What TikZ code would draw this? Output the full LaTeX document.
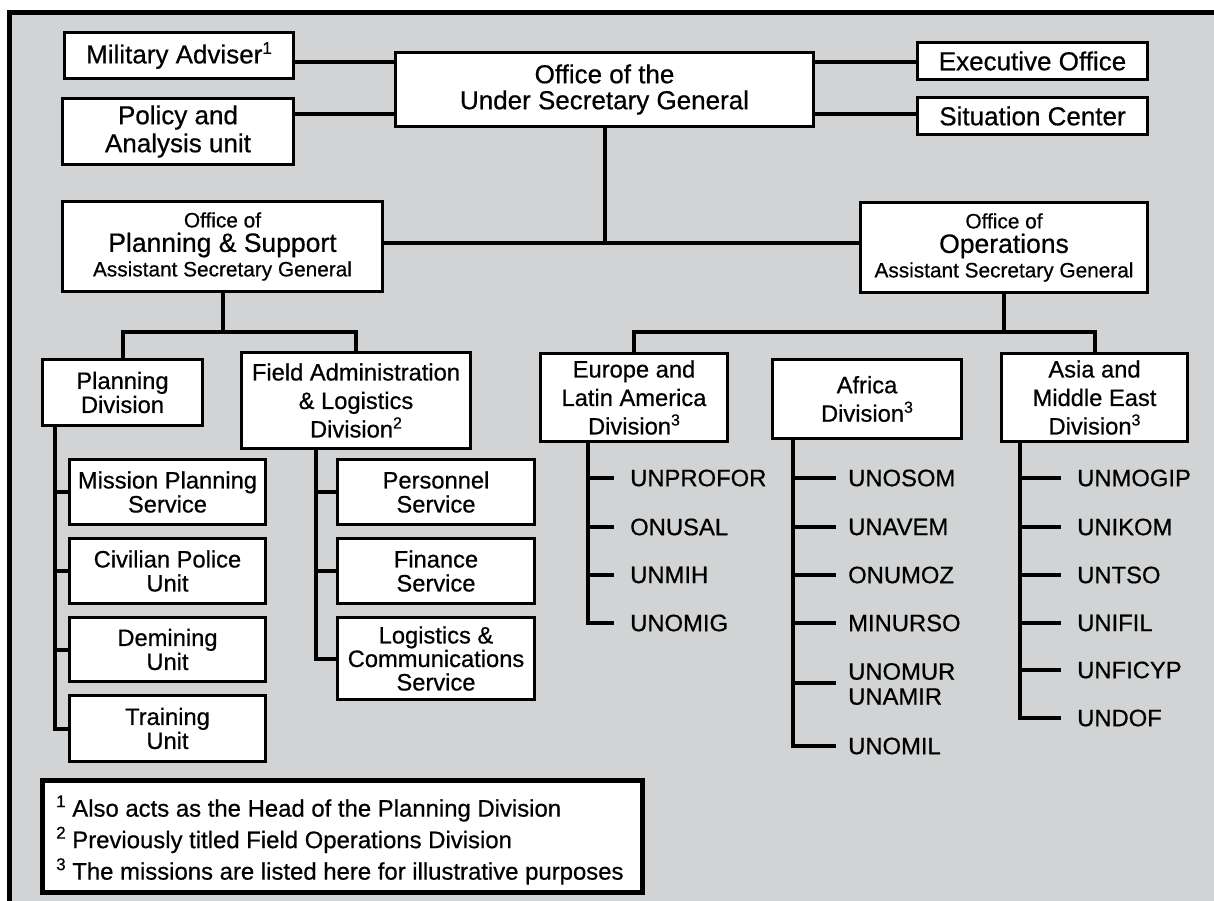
\documentclass[tikz,border=0pt]{standalone}
\usepackage{fontspec}
\setmainfont{Liberation Sans}[FakeBold=0.6]
\definecolor{bggray}{RGB}{209,211,212}
\newcommand\ftop{\fontsize{26}{26}\selectfont}
\newcommand\ftopb{\fontsize{26}{28}\selectfont}
\newcommand\fbig{\fontsize{26.5}{24.5}\selectfont}
\newcommand\fsmall{\fontsize{20.8}{24.5}\selectfont}
\newcommand\flow{\fontsize{23.7}{24}\selectfont}
\newcommand\flowb{\fontsize{23.7}{28.5}\selectfont}
\newcommand\fmis{\fontsize{23.8}{25}\selectfont}
\newcommand\fnote{\fontsize{23.9}{31.5}\selectfont}
\newcommand\supn[1]{\raisebox{9.5pt}{\fontsize{17}{17}\selectfont #1}}
\newcommand\supl[1]{\raisebox{9pt}{\fontsize{16}{16}\selectfont #1}}
\begin{document}
\begin{tikzpicture}[x=1pt,y=-1pt,
  ubox/.style={draw, fill=white, line width=3pt, inner sep=0pt, align=center, text=black},
  conn/.style={line width=4pt},
  mission/.style={font=\fmis, inner sep=0pt, anchor=west, align=left}]
\useasboundingbox (0,0) rectangle (1214,900);
\clip (0,0) rectangle (1214,900);
% frame
\fill[white] (0,0) rectangle (1214,900);
\draw[line width=5pt, fill=bggray] (9,12.5) rectangle (1240,930);

% top level
\node[ubox, minimum width=229pt, minimum height=46pt, font=\ftop] (ma) at (179,55.5) {Military Adviser\supn{1}};
\node[ubox, minimum width=231pt, minimum height=66pt, font=\ftopb] (pol) at (178,131.5) {Policy and\\Analysis unit};
\node[ubox, minimum width=418pt, minimum height=74pt, font=\ftop] (usg) at (604.5,89.5) {Office of the\\Under Secretary General};
\node[ubox, minimum width=230pt, minimum height=37pt, font=\ftop] (exe) at (1032.5,61) {Executive Office};
\node[ubox, minimum width=230pt, minimum height=37pt, font=\ftop] (sit) at (1032.5,116) {Situation Center};

\coordinate (l1) at (0,62);
\coordinate (l2) at (0,113.5);
\draw[conn] (ma.east |- l1) -- (usg.west |- l1);
\draw[conn] (pol.east |- l2) -- (usg.west |- l2);
\draw[conn] (usg.east |- l1) -- (exe.west |- l1);
\draw[conn] (usg.east |- l2) -- (sit.west |- l2);

% ASG offices
\node[ubox, minimum width=320pt, minimum height=90pt, font=\fsmall] (ps) at (222.5,246.5)
  {Office of\\{\fbig Planning \& Support}\\Assistant Secretary General};
\node[ubox, minimum width=287pt, minimum height=90pt, font=\fsmall] (ops) at (1004,247.5)
  {Office of\\{\fbig Operations}\\Assistant Secretary General};
\coordinate (mid) at (605,243);
\draw[conn] (usg.south -| mid) -- (mid);
\draw[conn] (ps.east |- mid) -- (ops.west |- mid);

% divisions
\node[ubox, minimum width=160pt, minimum height=66pt, font=\flow] (pd) at (122.5,392.5) {Planning\\Division};
\node[ubox, minimum width=229pt, minimum height=96pt, font=\flowb] (fa) at (356,400.5) {Field Administration\\\& Logistics\\Division\supl{2}};
\node[ubox, minimum width=187pt, minimum height=88pt, font=\flowb] (eu) at (634,397.5) {Europe and\\Latin America\\Division\supl{3}};
\node[ubox, minimum width=189pt, minimum height=79pt, font=\flowb] (af) at (867,399) {Africa\\Division\supl{3}};
\node[ubox, minimum width=186pt, minimum height=88pt, font=\flowb] (as) at (1094.5,397.5) {Asia and\\Middle East\\Division\supl{3}};

\path (ps.south) ++(0,39) coordinate (psJ);
\draw[conn] (ps.south) -- (psJ);
\draw[conn] (pd.north) |- (psJ) -| (fa.north);
\path (ops.south) ++(0,38) coordinate (opsJ);
\draw[conn] (ops.south) -- (opsJ);
\draw[conn] (eu.north) |- (opsJ) -| (as.north);

% planning division units
\node[ubox, minimum width=196pt, minimum height=65pt, font=\flow] (mps) at (167.5,492) {Mission Planning\\Service};
\node[ubox, minimum width=196pt, minimum height=65pt, font=\flow] (civ) at (167.5,571) {Civilian Police\\Unit};
\node[ubox, minimum width=196pt, minimum height=64pt, font=\flow] (dem) at (167.5,649.5) {Demining\\Unit};
\node[ubox, minimum width=196pt, minimum height=66pt, font=\flow] (trn) at (167.5,728.5) {Training\\Unit};
\coordinate (pdT) at (55,425.5);
\draw[conn] (pdT) |- (mps.west);
\draw[conn] (pdT) |- (civ.west);
\draw[conn] (pdT) |- (dem.west);
\draw[conn] (pdT) |- (trn.west);

% field admin services
\node[ubox, minimum width=197pt, minimum height=65pt, font=\flow] (per) at (436,492) {Personnel\\Service};
\node[ubox, minimum width=197pt, minimum height=65pt, font=\flow] (fin) at (436,571) {Finance\\Service};
\node[ubox, minimum width=197pt, minimum height=82pt, font=\fontsize{23.7}{23.5}\selectfont] (lgc) at (436,658.5) {Logistics \&\\Communications\\Service};
\coordinate (faT) at (316,448.5);
\draw[conn] (faT) |- (per.west);
\draw[conn] (faT) |- (fin.west);
\draw[conn] (faT) |- (lgc.west);

% Europe missions
\node[mission] (e1) at (630,478) {UNPROFOR};
\node[mission] (e2) at (630,527) {ONUSAL};
\node[mission] (e3) at (630,575) {UNMIH};
\node[mission] (e4) at (630,623) {UNOMIG};
\coordinate (euT) at (588,441.5);
\foreach \m in {e1,e2,e3,e4} \draw[conn] (euT) |- ([xshift=-16pt]\m.west);

% Africa missions
\node[mission] (a1) at (848,478) {UNOSOM};
\node[mission] (a2) at (848,527) {UNAVEM};
\node[mission] (a3) at (848,575) {ONUMOZ};
\node[mission] (a4) at (848,623) {MINURSO};
\node[mission] (a5) at (848,684) {UNOMUR\\UNAMIR};
\node[mission] (a6) at (848,746) {UNOMIL};
\coordinate (afT) at (793,438.5);
\draw[conn] (afT) |- ([xshift=-12.5pt]a1.west);
\draw[conn] (afT) |- ([xshift=-12.5pt]a2.west);
\draw[conn] (afT) |- ([xshift=-12.5pt]a3.west);
\draw[conn] (afT) |- ([xshift=-12.5pt]a4.west);
\draw[conn] (afT) |- ([xshift=-12.5pt,yshift=1pt]a5.west);
\draw[conn] (afT) |- ([xshift=-12.5pt]a6.west);

% Asia missions
\node[mission] (s1) at (1077,478) {UNMOGIP};
\node[mission] (s2) at (1077,527) {UNIKOM};
\node[mission] (s3) at (1077,575) {UNTSO};
\node[mission] (s4) at (1077,623) {UNIFIL};
\node[mission] (s5) at (1077,670) {UNFICYP};
\node[mission] (s6) at (1077,718) {UNDOF};
\coordinate (asT) at (1020,441.5);
\foreach \m in {s1,s2,s3,s4,s5,s6} \draw[conn] (asT) |- ([xshift=-16pt]\m.west);

% footnotes
\node[draw, fill=white, line width=5pt, minimum width=600pt, minimum height=112pt, inner sep=0pt] (notes) at (342.5,836.5) {};
\node[inner sep=0pt, anchor=west, align=left, font=\fnote] (notetext) at (56,840)
  {\supn{1} Also acts as the Head of the Planning Division\\
   \supn{2} Previously titled Field Operations Division\\
   \supn{3} The missions are listed here for illustrative purposes};
\end{tikzpicture}
\end{document}
